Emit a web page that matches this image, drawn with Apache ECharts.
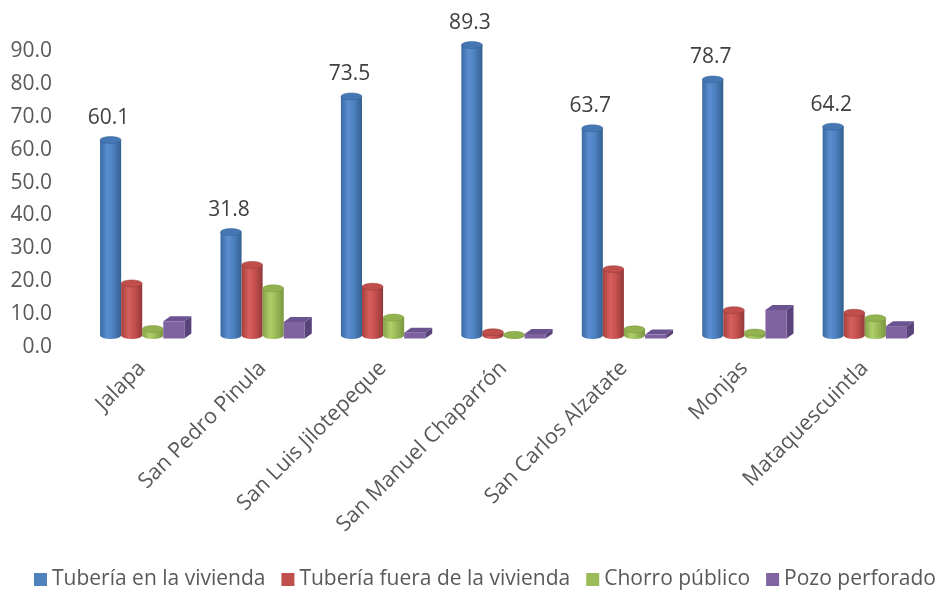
<!DOCTYPE html>
<html>
<head>
<meta charset="utf-8">
<script src="https://cdn.jsdelivr.net/npm/echarts@6/dist/echarts.min.js"></script>
<style>
  html, body { margin: 0; padding: 0; background: #fff; }
  #chart { width: 938px; height: 592px; }
</style>
</head>
<body>
<div id="chart"></div>
<script>
const municipios = ['Jalapa', 'San Pedro Pinula', 'San Luis Jilotepeque', 'San Manuel Chaparrón', 'San Carlos Alzatate', 'Monjas', 'Mataquescuintla']
const tuberiaVivienda = [60.1, 31.8, 73.5, 89.3, 63.7, 78.7, 64.2]
const tuberiaFuera = [16.0, 21.7, 15.0, 1.0, 20.4, 7.8, 7.0]
const chorroPublico = [2.0, 14.5, 5.5, 0.2, 1.9, 0.9, 5.3]
const pozoPerforado = [5.3, 5.1, 1.8, 1.4, 1.2, 8.8, 3.8]
const yTicks = [0, 10, 20, 30, 40, 50, 60, 70, 80, 90]

const FONT = '"Open Sans", sans-serif'
const LIFT = 11.5   // floor of the 3d bars sits above the value axis zero
const PERSP = 0.989 // bars are a touch shorter than the axis scale (perspective)

const cylColors = [
  { stops: ['#3A6AA3', '#5A8ED0', '#4F82C2', '#33608F'], top: '#4677B5', legend: '#4F81BD' },
  { stops: ['#A6403D', '#D6605D', '#C9524F', '#93393A'], top: '#C04E4B', legend: '#C0504D' },
  { stops: ['#86A24A', '#AECF69', '#9CBD59', '#7A9540'], top: '#91B24F', legend: '#9BBB59' }
]

const gradient = (s) => ({
  type: 'linear', x: 0, y: 0, x2: 1, y2: 0,
  colorStops: [
    { offset: 0, color: s[0] },
    { offset: 0.35, color: s[1] },
    { offset: 0.6, color: s[2] },
    { offset: 1, color: s[3] }
  ]
})

const geom = (idx, api) => {
  const cat = api.value(0)
  const val = api.value(1)
  const pv = api.coord([cat, val])
  const p0 = api.coord([cat, 0])
  const band = api.size([1, 0])[0]
  const w = band * 0.175
  const cx = p0[0] + (idx - 1.5) * w
  const floor = p0[1] - LIFT
  const top = floor - (p0[1] - pv[1]) * PERSP
  return { cat, val, cx, w, floor, top }
}

const cylinderRender = (idx) => (params, api) => {
  const g = geom(idx, api)
  const rx = g.w / 2
  const ry = 3.5
  const x1 = g.cx - rx
  const x2 = g.cx + rx
  const c = cylColors[idx]
  const body = `M ${x1} ${g.top} L ${x1} ${g.floor} A ${rx} ${ry} 0 0 0 ${x2} ${g.floor} L ${x2} ${g.top} Z`
  const cap = `M ${x1} ${g.top} A ${rx} ${ry} 0 1 0 ${x2} ${g.top} A ${rx} ${ry} 0 1 0 ${x1} ${g.top} Z`
  const children = [
    { type: 'path', shape: { pathData: body }, style: { fill: gradient(c.stops) } },
    { type: 'path', shape: { pathData: cap }, style: { fill: c.top, stroke: c.stops[3], lineWidth: 0.5 } }
  ]
  if (idx === 0) {
    children.push({
      type: 'text',
      style: {
        text: g.val.toFixed(1), x: g.cx - 2, y: g.top - 22,
        align: 'center', verticalAlign: 'middle',
        font: '21px ' + FONT, fill: '#404040'
      }
    })
  }
  return { type: 'group', children }
}

const boxRender = (params, api) => {
  const g = geom(3, api)
  const x1 = g.cx - g.w / 2
  const x2 = g.cx + g.w / 2
  const dx = 7, dy = 5
  const ft = g.top + 3
  const fb = g.floor + 3
  return {
    type: 'group',
    children: [
      { type: 'polygon', shape: { points: [[x2, ft], [x2 + dx, ft - dy], [x2 + dx, fb - dy], [x2, fb]] }, style: { fill: '#58437A' } },
      { type: 'polygon', shape: { points: [[x1, ft], [x2, ft], [x2 + dx, ft - dy], [x1 + dx, ft - dy]] }, style: { fill: '#6A5390' } },
      { type: 'rect', shape: { x: x1, y: ft, width: g.w, height: fb - ft }, style: { fill: '#7F63A1' } }
    ]
  }
}

const toData = (arr) => arr.map((v, i) => [i, v])

const chart = echarts.init(document.getElementById('chart'))

const option = {
  animation: false,
  textStyle: { fontFamily: FONT },
  grid: { left: 82, right: 13, top: 51, bottom: 245 },
  legend: {
    left: 34,
    top: 569,
    width: 930,
    padding: 0,
    itemWidth: 13,
    itemHeight: 13,
    itemGap: 16,
    icon: 'rect',
    textStyle: { fontSize: 21, color: '#595959', fontFamily: FONT },
    data: ['Tubería en la vivienda', 'Tubería fuera de la vivienda', 'Chorro público', 'Pozo perforado']
  },
  xAxis: {
    type: 'category',
    data: municipios,
    axisLine: { show: false },
    axisTick: { show: false },
    axisLabel: { rotate: 45, interval: 0, fontSize: 21.5, color: '#595959', margin: 18, fontFamily: FONT }
  },
  yAxis: {
    type: 'value',
    min: yTicks[0],
    max: yTicks[yTicks.length - 1],
    interval: yTicks[1] - yTicks[0],
    axisLine: { show: false },
    axisTick: { show: false },
    splitLine: { show: false },
    axisLabel: { fontSize: 21, color: '#595959', margin: 30, fontFamily: FONT, formatter: (v) => v.toFixed(1) }
  },
  series: [
    { name: 'Tubería en la vivienda', type: 'custom', renderItem: cylinderRender(0), itemStyle: { color: cylColors[0].legend }, encode: { x: 0, y: 1 }, data: toData(tuberiaVivienda) },
    { name: 'Tubería fuera de la vivienda', type: 'custom', renderItem: cylinderRender(1), itemStyle: { color: cylColors[1].legend }, encode: { x: 0, y: 1 }, data: toData(tuberiaFuera) },
    { name: 'Chorro público', type: 'custom', renderItem: cylinderRender(2), itemStyle: { color: cylColors[2].legend }, encode: { x: 0, y: 1 }, data: toData(chorroPublico) },
    { name: 'Pozo perforado', type: 'custom', renderItem: boxRender, itemStyle: { color: '#8064A2' }, encode: { x: 0, y: 1 }, data: toData(pozoPerforado) }
  ]
}

chart.setOption(option)
</script>
</body>
</html>
